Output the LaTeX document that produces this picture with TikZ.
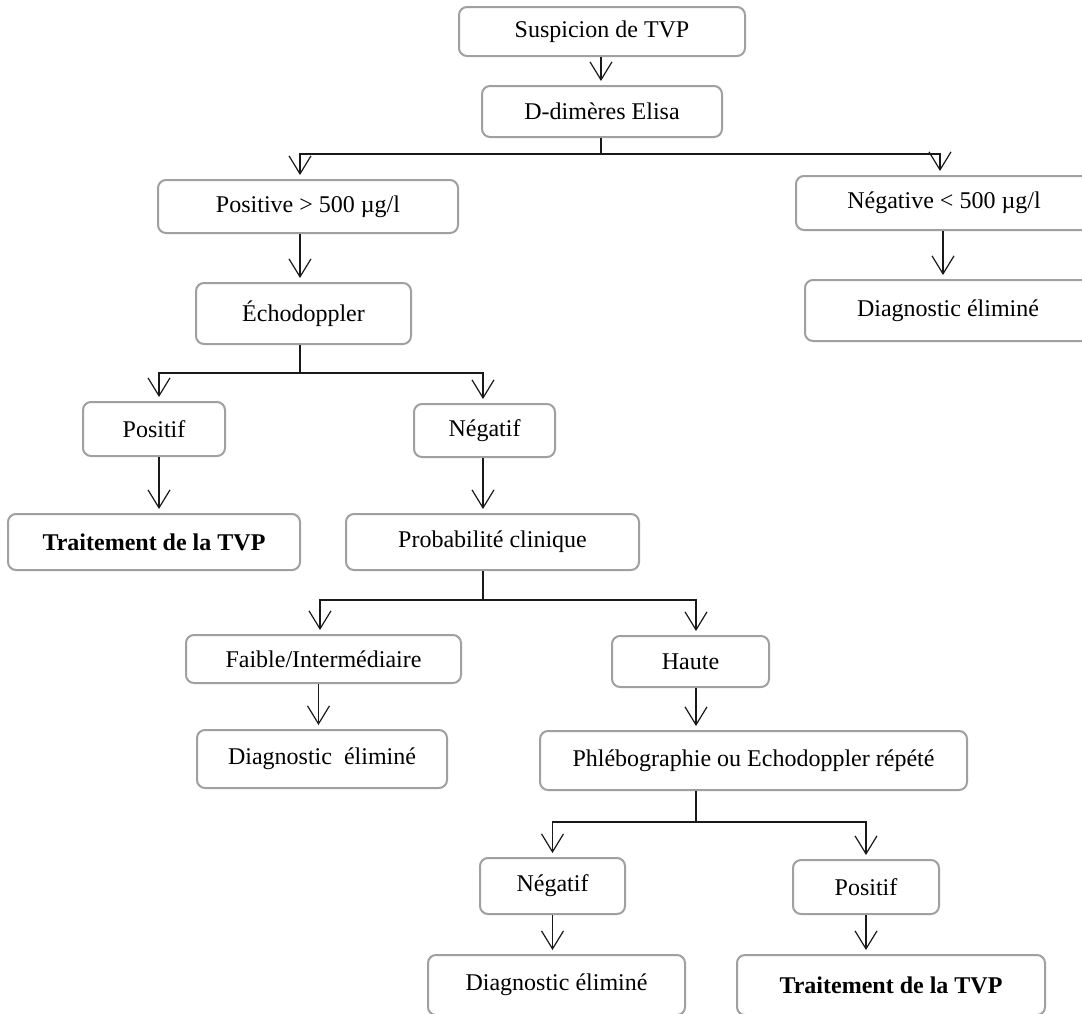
\documentclass[tikz,border=0pt]{standalone}
\usepackage{fontspec}
\setmainfont{Liberation Serif}
\usetikzlibrary{arrows.meta}
\definecolor{boxgray}{RGB}{160,160,160}
\definecolor{linegray}{RGB}{25,25,25}
\begin{document}
\begin{tikzpicture}[x=1pt,y=-1pt,
  box/.style={draw=boxgray, line width=2pt, rounded corners=8pt, inner sep=0pt,
    align=center, fill=white, font=\fontsize{24}{28}\selectfont},
  ln/.style={draw=linegray, line width=1.2pt},
  arr/.style={ln, -{Straight Barb[length=18pt,width=22pt]}, shorten >=4pt}]
\useasboundingbox (0,0) rectangle (1082,1013);
\clip (0,0) rectangle (1082,1013);
% nodes
\node[box, minimum width=286pt, minimum height=49pt] (susp) at (602,31.5) {Suspicion de TVP};
\node[box, minimum width=240pt, minimum height=51pt] (ddim) at (602,111.5) {D-dimères Elisa};
\node[box, minimum width=300pt, minimum height=53pt] (pos) at (308,206.5) {Positive > 500 µg/l};
\node[box, minimum width=296pt, minimum height=54pt] (neg) at (944,203) {Négative < 500 µg/l};
\node[box, minimum width=215pt, minimum height=61pt] (echo) at (303.5,313.5) {Échodoppler};
\node[box, minimum width=286pt, minimum height=61pt] (diagR) at (948,310.5) {Diagnostic éliminé};
\node[box, minimum width=142pt, minimum height=54pt] (pf1) at (154,429) {Positif};
\node[box, minimum width=141pt, minimum height=53pt] (ng1) at (484.5,430.5) {Négatif};
\node[box, minimum width=292pt, minimum height=56pt] (tr1) at (154,542) {\textbf{Traitement de la TVP}};
\node[box, minimum width=293pt, minimum height=56pt] (prob) at (492.5,542) {Probabilité clinique};
\node[box, minimum width=275pt, minimum height=48pt] (faible) at (323.5,659) {Faible/Intermédiaire};
\node[box, minimum width=157pt, minimum height=51pt] (haute) at (690.5,661.5) {Haute};
\node[box, minimum width=250pt, minimum height=58pt] (diagM) at (322,759) {Diagnostic\ \ éliminé};
\node[box, minimum width=427pt, minimum height=59pt] (phleb) at (753.5,760.5) {Phlébographie ou Echodoppler répété};
\node[box, minimum width=145pt, minimum height=56pt] (ng2) at (552.5,886) {Négatif};
\node[box, minimum width=146pt, minimum height=54pt] (pf2) at (866,887) {Positif};
\node[box, minimum width=257pt, minimum height=60pt] (diagB) at (556.5,985) {Diagnostic éliminé};
\node[box, minimum width=308pt, minimum height=60pt] (trB) at (891,985) {\textbf{Traitement de la TVP}};
% junctions
\coordinate (j1) at (601,154);
\coordinate (j2) at (300,373);
\coordinate (j3) at (483,600);
\coordinate (j4) at (696,822);
% connectors
\draw[arr] (susp.south -| j1) -- (ddim.north -| j1);
\draw[ln] (ddim.south -| j1) -- (j1);
\draw[arr] (j1) -| ([xshift=-8pt]pos.north);
\draw[arr] (j1) -| ([xshift=-4pt]neg.north);
\draw[arr] ([xshift=-8pt]pos.south) -- ([xshift=-8pt]pos.south |- echo.north);
\draw[ln] (echo.south -| j2) -- (j2);
\draw[arr] (j2) -| ([xshift=5pt]pf1.north);
\draw[arr] (j2) -| ([xshift=-1.5pt]ng1.north);
\draw[arr] ([xshift=-1pt]neg.south) -- ([xshift=-1pt]neg.south |- diagR.north);
\draw[arr] ([xshift=5pt]pf1.south) -- ([xshift=5pt]pf1.south |- tr1.north);
\draw[arr] ([xshift=-1.5pt]ng1.south) -- ([xshift=-1.5pt]ng1.south |- prob.north);
\draw[ln] (prob.south -| j3) -- (j3);
\draw[arr] (j3) -| ([xshift=-3.5pt]faible.north);
\draw[arr] (j3) -| ([xshift=5.5pt]haute.north);
\draw[arr] ([xshift=-5pt]faible.south) -- ([xshift=-5pt]faible.south |- diagM.north);
\draw[arr] ([xshift=5.5pt]haute.south) -- ([xshift=5.5pt]haute.south |- phleb.north);
\draw[ln] (phleb.south -| j4) -- (j4);
\draw[arr] (j4) -| (ng2.north);
\draw[arr] (j4) -| (pf2.north);
\draw[arr] (ng2.south) -- (ng2.south |- diagB.north);
\draw[arr] (pf2.south) -- (pf2.south |- trB.north);
\end{tikzpicture}
\end{document}
